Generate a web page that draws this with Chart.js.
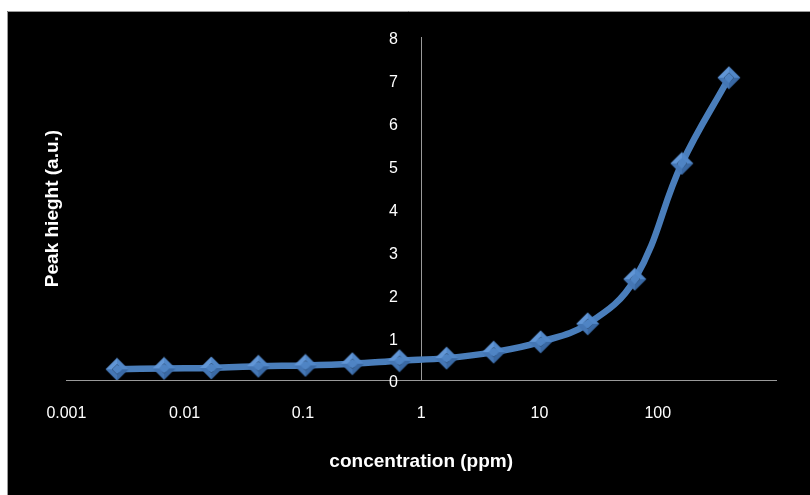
<!DOCTYPE html>
<html>
<head>
<meta charset="utf-8">
<script src="https://cdn.jsdelivr.net/npm/chart.js@4"></script>
<style>
  html, body { margin: 0; padding: 0; background: #fff; }
  #wrap { width: 810px; height: 495px; }
</style>
</head>
<body>
<div id="wrap"><canvas id="peakChart" width="810" height="495"></canvas></div>
<script>
// concentration (ppm) vs peak height
const concentrations = [0.00268, 0.0067, 0.0168, 0.042, 0.105, 0.262, 0.655, 1.64, 4.1, 10.24, 25.6, 64, 160, 400];
const peakHeights = [0.25, 0.27, 0.28, 0.32, 0.34, 0.38, 0.45, 0.51, 0.65, 0.89, 1.31, 2.35, 5.05, 7.05];
const xTickValues = [0.001, 0.01, 0.1, 1, 10, 100];
const xTickLabels = ['0.001', '0.01', '0.1', '1', '10', '100'];
const yTickValues = [0, 1, 2, 3, 4, 5, 6, 7, 8];

// beveled diamond marker, like the excel one
function makeDiamond() {
  const c = document.createElement('canvas');
  c.width = 24; c.height = 24;
  const g = c.getContext('2d');
  const m = 12, r = 11.5, ri = 5;
  const facet = (pts, color) => {
    g.beginPath();
    g.moveTo(pts[0][0], pts[0][1]);
    for (let i = 1; i < pts.length; i++) g.lineTo(pts[i][0], pts[i][1]);
    g.closePath();
    g.fillStyle = color;
    g.fill();
  };
  const T = [m, m - r], R = [m + r, m], B = [m, m + r], L = [m - r, m];
  const t = [m, m - ri], rr = [m + ri, m], b = [m, m + ri], l = [m - ri, m];
  facet([L, T, t, l], '#6196d6');
  facet([T, R, rr, t], '#5187c8');
  facet([R, B, b, rr], '#3a69a4');
  facet([B, L, l, b], '#4577b5');
  facet([t, rr, b, l], '#4f84c4');
  return c;
}

const background = {
  id: 'background',
  beforeDraw(chart) {
    const ctx = chart.ctx;
    ctx.save();
    ctx.fillStyle = '#ffffff';
    ctx.fillRect(0, 0, chart.width, chart.height);
    ctx.fillStyle = '#000000';
    ctx.fillRect(7, 11, chart.width - 7, chart.height - 11);
    ctx.strokeStyle = '#9a9a9a';
    ctx.lineWidth = 1;
    ctx.beginPath();
    ctx.moveTo(7.5, chart.height);
    ctx.lineTo(7.5, 11.5);
    ctx.lineTo(chart.width, 11.5);
    ctx.stroke();
    ctx.restore();
  }
};

const tickFont = { family: 'Liberation Sans', size: 16 };
const titleFont = { family: 'Liberation Sans', size: 19, weight: 'bold' };

const ctx = document.getElementById('peakChart').getContext('2d');
const peakChart = new Chart(ctx, {
  type: 'line',
  data: {
    datasets: [{
      label: 'Peak height',
      data: concentrations.map((c, i) => ({ x: c, y: peakHeights[i] })),
      borderColor: '#4a7ebb',
      borderWidth: 6.5,
      tension: 0.4,
      fill: false,
      pointStyle: makeDiamond(),
      pointRadius: 11,
      pointHoverRadius: 11
    }]
  },
  options: {
    responsive: false,
    animation: false,
    layout: { padding: { left: 30, right: 34, top: 37, bottom: 0 } },
    plugins: {
      legend: { display: false },
      tooltip: { enabled: false },
      title: {
        display: true,
        position: 'left',
        fullSize: false,
        text: 'Peak hieght (a.u.)',
        color: '#ffffff',
        font: titleFont,
        padding: { top: 11, bottom: 2.6 }
      }
    },
    scales: {
      x: {
        type: 'logarithmic',
        min: 0.001,
        max: 1000,
        afterBuildTicks(scale) {
          scale.ticks = xTickValues.map(v => ({ value: v }));
        },
        afterFit(scale) { scale.height = 115; },
        ticks: {
          color: '#ffffff',
          autoSkip: false,
          maxRotation: 0,
          padding: 24,
          font: tickFont,
          callback: (value, index) => xTickLabels[index]
        },
        grid: { display: false, drawTicks: false },
        border: { display: true, color: '#9a9a9a', width: 1 },
        title: {
          display: true,
          text: 'concentration (ppm)',
          color: '#ffffff',
          font: titleFont,
          padding: { bottom: 22 }
        }
      },
      // vertical axis line, crossing at x = 1
      y: {
        position: { x: 1 },
        min: 0,
        max: 8,
        afterFit(scale) { scale.width = 0; },
        ticks: { display: false },
        grid: { display: false, drawTicks: false },
        border: { display: true, color: '#9a9a9a', width: 1 }
      },
      // its tick labels, set a little to the left of the line
      yLabels: {
        axis: 'y',
        position: { x: 0.634 },
        min: 0,
        max: 8,
        afterBuildTicks(scale) {
          scale.ticks = yTickValues.map(v => ({ value: v }));
        },
        afterFit(scale) { scale.width = 0; },
        ticks: {
          color: '#ffffff',
          labelOffset: 3,
          font: tickFont
        },
        grid: { display: false, drawTicks: false },
        border: { display: false }
      }
    }
  },
  plugins: [background]
});
</script>
</body>
</html>
